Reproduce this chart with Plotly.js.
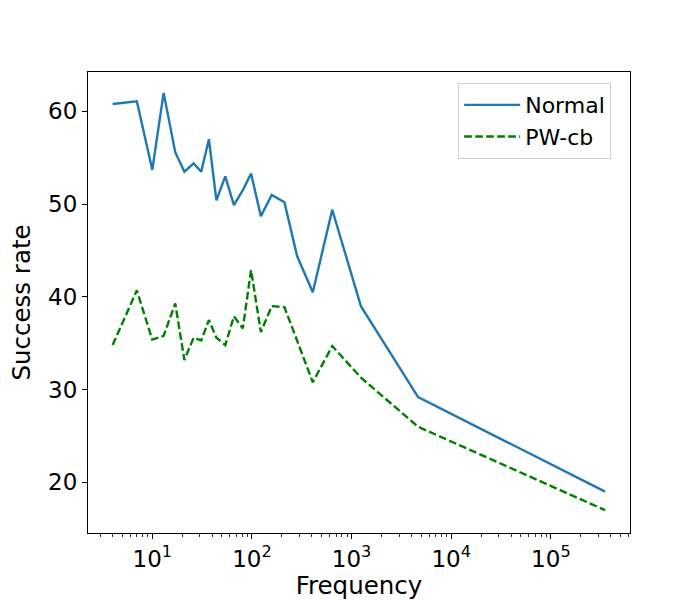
<!DOCTYPE html>
<html>
<head>
<meta charset="utf-8">
<script src="https://cdn.plot.ly/plotly-3.0.1.min.js"></script>
<style>
  html, body { margin: 0; padding: 0; background: #fff; }
  #chart { width: 700px; height: 600px; }
</style>
</head>
<body>
<div id="chart"></div>
<script>
// values
const freq = [4, 7, 10, 13, 17, 21, 26, 31, 37, 44, 54, 66, 81, 98, 123, 158, 212, 284, 408, 640, 1240, 4650, 350000];
const normal = [60.8, 61.1, 53.7, 62.0, 55.6, 53.5, 54.4, 53.5, 57.0, 50.4, 53.0, 49.9, 51.5, 53.3, 48.7, 51.0, 50.2, 44.4, 40.5, 49.4, 39.0, 29.2, 19.0];
const pwcb = [34.8, 40.7, 35.4, 35.8, 39.3, 33.2, 35.6, 35.3, 37.5, 35.6, 34.8, 37.9, 36.6, 42.9, 36.2, 39.0, 38.9, 35.2, 30.8, 34.7, 31.3, 26.0, 17.0];

const majorTicks = [10, 100, 1000, 10000, 100000];
const majorText = ['10<sup>1</sup>', '10<sup>2</sup>', '10<sup>3</sup>', '10<sup>4</sup>', '10<sup>5</sup>'];
const yTicks = [20, 30, 40, 50, 60];

// minor ticks 2..9 for every decade
var minorTicks = [];
for (var e = 0; e <= 5; e++) {
    for (var m = 2; m <= 9; m++) {
        minorTicks.push(m * Math.pow(10, e));
    }
}

var data = [
    {
        x: freq,
        y: normal,
        type: 'scatter',
        mode: 'lines',
        name: 'Normal',
        legendgroup: 'a',
        line: { color: '#1f77b4', width: 2.4 }
    },
    {
        x: freq,
        y: pwcb,
        type: 'scatter',
        mode: 'lines',
        name: 'PW-cb',
        legendgroup: 'b',
        line: { color: '#008000', width: 2.4, dash: '7.7px,3.3px' }
    }
];

var layout = {
    width: 700,
    height: 600,
    margin: { l: 88, r: 70, t: 72, b: 67 },
    paper_bgcolor: '#fff',
    plot_bgcolor: '#fff',
    font: { family: 'DejaVu Sans', size: 23, color: '#000' },
    showlegend: true,
    xaxis: {
        type: 'log',
        range: [0.355, 5.794],
        tickmode: 'array',
        tickvals: majorTicks,
        ticktext: majorText,
        ticks: 'outside',
        ticklen: 5,
        tickwidth: 1.1,
        tickcolor: '#000',
        showgrid: false,
        zeroline: false,
        showline: true,
        linecolor: '#000',
        linewidth: 1.1,
        mirror: true,
        minor: {
            tickmode: 'array',
            tickvals: minorTicks,
            ticks: 'outside',
            ticklen: 3,
            tickwidth: 0.8,
            tickcolor: '#000',
            showgrid: false
        },
        title: { text: 'Frequency', font: { size: 24.5 }, standoff: 6 }
    },
    yaxis: {
        range: [14.54, 64.25],
        tickmode: 'array',
        tickvals: yTicks,
        ticks: 'outside',
        ticklen: 5,
        tickwidth: 1.1,
        tickcolor: '#000',
        showgrid: false,
        zeroline: false,
        showline: true,
        linecolor: '#000',
        linewidth: 1.1,
        mirror: true,
        title: { text: 'Success rate', font: { size: 24.5 }, standoff: 10 }
    },
    legend: {
        x: 0.683,
        y: 0.976,
        xanchor: 'left',
        yanchor: 'top',
        bgcolor: 'rgba(255,255,255,0.8)',
        bordercolor: '#d0d0d0',
        borderwidth: 1,
        font: { size: 22 },
        itemwidth: 56,
        tracegroupgap: 0
    }
};

Plotly.newPlot('chart', data, layout, { displayModeBar: false, staticPlot: true });
</script>
</body>
</html>
